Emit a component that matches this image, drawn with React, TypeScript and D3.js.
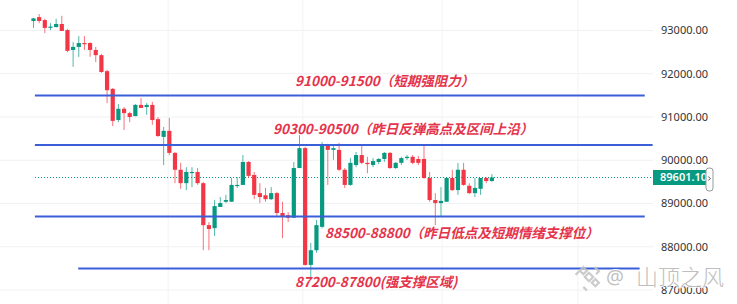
import React from "react";
import * as d3 from "d3";

// Hourly candles (open / high / low / close)
const opens = [
  93220, 93310, 93240, 93070, 93080, 93150, 93010, 92550, 92620, 92710,
  92710, 92550, 92430, 92060, 91650, 90930, 91190, 91090, 91020, 91280,
  91230, 91280, 90950, 90540, 90680, 90170, 89780, 89470, 89710, 89730,
  89470, 88500, 88430, 88920, 89040, 89040, 89410, 89430, 89960, 89660,
  89240, 89190, 89100, 89240, 88780, 88730, 88670, 89820, 90280, 87580,
  87920, 88460, 90350, 90240, 90240, 89780, 89430, 89890, 90120, 89940,
  89890, 89960, 90030, 90170, 89820, 89940, 90050, 90080, 90030, 90030,
  89590, 89080, 89010, 89040, 89590, 89310, 89780, 89410, 89240, 89340,
  89590, 89520,
];
const highs = [
  93290, 93380, 93270, 93170, 93270, 93340, 93040, 92730, 92870, 92870,
  92730, 92620, 92460, 92090, 91670, 91300, 91230, 91120, 91300, 91440,
  91320, 91350, 91000, 90770, 90980, 90190, 89940, 89840, 89840, 89820,
  89500, 88570, 89080, 89150, 89200, 89590, 89610, 90120, 89980, 89730,
  89470, 89360, 89380, 89270, 89040, 88800, 89960, 90580, 90310, 88090,
  88620, 90420, 90380, 90330, 90400, 89820, 90050, 90190, 90350, 90080,
  90050, 90050, 90190, 90190, 89960, 90080, 90120, 90120, 90100, 90330,
  89730, 89240, 89380, 89610, 89780, 89940, 89940, 89470, 89590, 89590,
  89610, 89680,
];
const lows = [
  93060, 93170, 92940, 93010, 93070, 92990, 92500, 92160, 92390, 92550,
  92390, 92270, 92020, 91320, 90790, 90880, 90700, 90880, 91020, 91210,
  91050, 90820, 90540, 89890, 90120, 89470, 89340, 89310, 89380, 89430,
  87920, 87920, 88250, 88920, 89010, 89040, 89360, 89430, 89590, 89100,
  89010, 89040, 89080, 88710, 88200, 88570, 88670, 89820, 87560, 87300,
  87860, 88430, 89430, 90010, 89750, 89360, 89410, 89840, 89910, 89700,
  89840, 89910, 89960, 89800, 89800, 89890, 90010, 89910, 89890, 89570,
  89040, 88500, 88710, 89040, 89290, 89200, 89410, 89220, 89150, 89200,
  89470, 89500,
];
const closes = [
  93280, 93220, 93060, 93090, 93150, 92990, 92530, 92620, 92710, 92690,
  92550, 92430, 92040, 91620, 90910, 91190, 91090, 91000, 91280, 91210,
  91280, 90930, 90560, 90680, 90170, 89780, 89470, 89730, 89730, 89470,
  88500, 88410, 88940, 89010, 89080, 89430, 89430, 89960, 89640, 89200,
  89150, 89100, 89240, 88780, 88710, 88670, 89820, 90280, 87580, 87920,
  88500, 90350, 90240, 90280, 89780, 89430, 89940, 90120, 89940, 89910,
  89980, 90030, 90170, 89820, 89940, 90050, 90080, 89940, 89940, 89590,
  89080, 89010, 89060, 89590, 89310, 89780, 89430, 89240, 89360, 89590,
  89520, 89601.1,
];

// Price axis ticks
const tickValues = [87000, 88000, 89000, 90000, 91000, 92000, 93000];

// Key levels drawn as horizontal lines, with their notes
const levelPrices = [91500, 90350, 88700, 87500];
const levelNotes = [
  "91000-91500（短期强阻力）",
  "90300-90500（昨日反弹高点及区间上沿）",
  "88500-88800（昨日低点及短期情绪支撑位）",
  "87200-87800(强支撑区域)",
];

// Layout of the level lines (in candle-index units) and of the notes
const levelFrom = [0.25, 0.25, 0.25, 7.9];
const levelTo = [108, 109.4, 108, 107.1];
const noteX = [295, 273, 325, 295];
const noteY = [86, 134, 238, 287];

const W = 737;
const H = 304;
const UP = "#089981";
const DOWN = "#f23645";
const LEVEL = "#3a5fd8";
const NOTE = "#e5334b";

export default function App() {
  const x = d3.scaleLinear().domain([0, 81]).range([33.5, 491.9]);
  const y = d3.scaleLinear().domain([87000, 93000]).range([290, 30.5]);
  const last = closes[closes.length - 1];
  const plotRight = 653;
  const vGrid = [23.8, 47.6, 72.2, 96.2].map((i) => x(i));
  const fmt = d3.format(".2f");

  const candles = opens.map((o, i) => ({
    o,
    h: highs[i],
    l: lows[i],
    c: closes[i],
    up: closes[i] >= o,
  }));

  return (
    <svg
      width={W}
      height={H}
      style={{ position: "fixed", left: 0, top: 0, background: "#fff" }}
    >
      <rect x={0} y={0} width={W} height={H} fill="#fff" />

      {/* grid */}
      {tickValues.map((t) => (
        <line
          key={"hg" + t}
          x1={0}
          x2={plotRight}
          y1={y(t)}
          y2={y(t)}
          stroke="#f0f1f4"
          strokeWidth={1}
        />
      ))}
      {vGrid.map((gx, i) => (
        <line
          key={"vg" + i}
          x1={gx}
          x2={gx}
          y1={0}
          y2={H}
          stroke="#f2f3f5"
          strokeWidth={1}
        />
      ))}

      {/* last price line */}
      <line
        x1={35}
        x2={plotRight}
        y1={y(last)}
        y2={y(last)}
        stroke={UP}
        strokeWidth={1}
        strokeDasharray="1 2"
      />

      {/* candles */}
      <g>
        {candles.map((d, i) => {
          const cx = x(i);
          const top = y(Math.max(d.o, d.c));
          const bot = y(Math.min(d.o, d.c));
          const col = d.up ? UP : DOWN;
          return (
            <g key={i}>
              <line
                x1={cx}
                x2={cx}
                y1={y(d.h)}
                y2={y(d.l)}
                stroke={col}
                strokeWidth={1}
                strokeOpacity={0.7}
              />
              <rect
                x={cx - 2.1}
                y={top}
                width={4.2}
                height={Math.max(1.2, bot - top)}
                fill={col}
              />
            </g>
          );
        })}
      </g>

      {/* key levels */}
      {levelPrices.map((p, i) => (
        <line
          key={"lv" + i}
          x1={x(levelFrom[i])}
          x2={x(levelTo[i])}
          y1={y(p)}
          y2={y(p)}
          stroke={LEVEL}
          strokeWidth={2}
        />
      ))}
      {levelNotes.map((t, i) => (
        <text
          key={"nt" + i}
          x={noteX[i]}
          y={noteY[i]}
          fill={NOTE}
          fontFamily="'Noto Sans CJK SC', 'Noto Sans', sans-serif"
          fontWeight="bold"
          fontStyle="italic"
          fontSize={13.5}
        >
          {t}
        </text>
      ))}

      {/* price axis */}
      {tickValues.map((t) => (
        <text
          key={"tk" + t}
          x={661}
          y={y(t)}
          dy="0.35em"
          fill="#333"
          fontFamily="'Noto Sans', 'Liberation Sans', sans-serif"
          fontSize={11}
        >
          {fmt(t)}
        </text>
      ))}

      {/* last price tag */}
      <rect x={653} y={y(last) - 7.5} width={54} height={15} fill={UP} />
      <text
        x={660}
        y={y(last)}
        dy="0.35em"
        fill="#fff"
        fontFamily="'Noto Sans', 'Liberation Sans', sans-serif"
        fontWeight={600}
        fontSize={11}
      >
        {fmt(last)}
      </text>
      <rect
        x={706}
        y={y(last) - 9.5}
        width={7}
        height={23}
        rx={3}
        fill="#fff"
        stroke="#9a9a9a"
        strokeWidth={1}
      />
      <path
        d={`M708.3,${y(last) - 1} l2,2 l-2,2`}
        fill="none"
        stroke="#444"
        strokeWidth={1}
      />

      {/* author mark */}
      <g opacity={0.85}>
        <g
          transform="translate(589,277) rotate(45)"
          fill="none"
          stroke="#c4c4c4"
          strokeWidth={2.2}
        >
          <rect x={-3} y={-3} width={6} height={6} />
          <rect x={-11} y={-3} width={5} height={5} />
          <rect x={6} y={-3} width={5} height={5} />
          <path d="M-3,-11 L3,-11 L3,-7" />
          <path d="M-11,8 L-11,3" />
          <path d="M8,11 L3,11" />
        </g>
        <text
          x={606}
          y={284}
          fill="#b8b8b8"
          stroke="#fff"
          strokeWidth={2}
          paintOrder="stroke"
          fontFamily="'Noto Sans', sans-serif"
          fontSize={20}
        >
          @
        </text>
        <text
          x={636}
          y={285}
          fill="#b4b4b4"
          stroke="#fff"
          strokeWidth={2}
          paintOrder="stroke"
          fontFamily="'Noto Sans CJK SC', sans-serif"
          fontSize={22}
          fontWeight={300}
        >
          山顶之风
        </text>
      </g>
    </svg>
  );
}
